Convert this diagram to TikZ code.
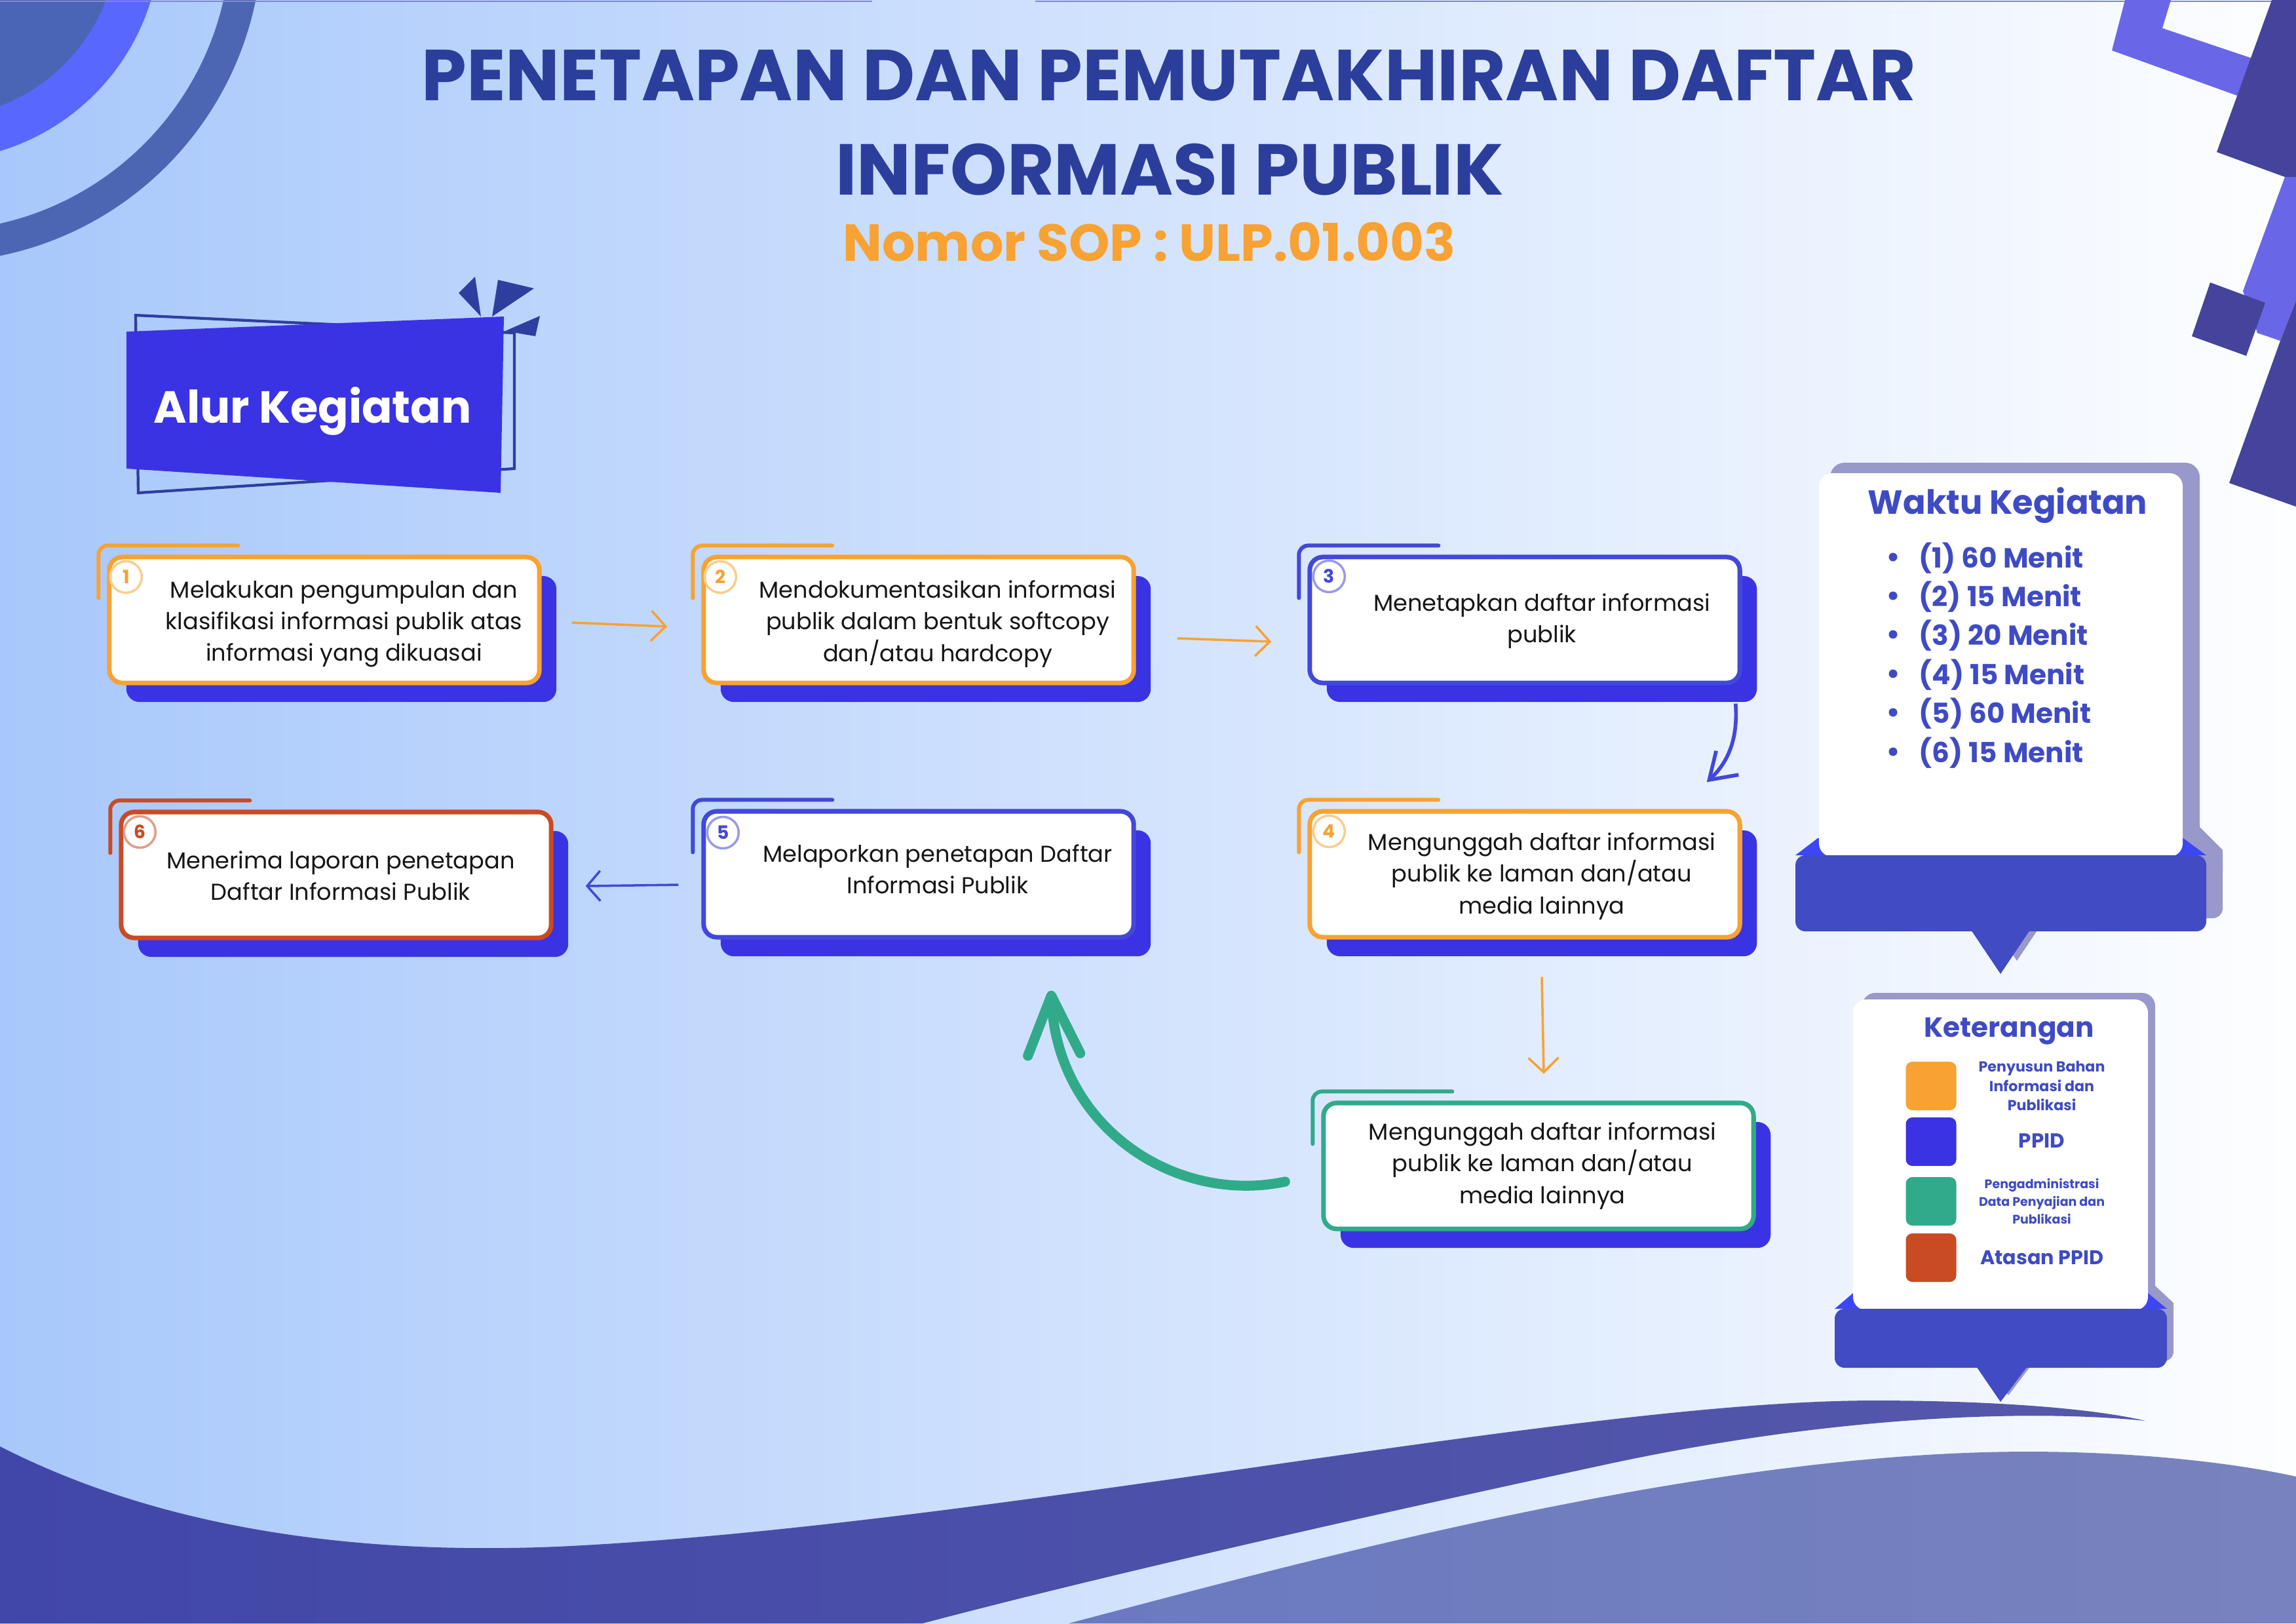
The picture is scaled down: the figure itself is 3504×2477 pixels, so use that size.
\documentclass[tikz,border=0pt]{standalone}
\usepackage{fontspec}
\setmainfont{Poppins}
\usetikzlibrary{arrows.meta,calc,shadows}
\definecolor{bgL}{HTML}{A8C8FB}
\definecolor{bgR}{HTML}{FDFEFF}
\definecolor{navy}{HTML}{2C3E9C}
\definecolor{orng}{HTML}{F7A233}
\definecolor{ppid}{HTML}{3A33E3}
\definecolor{ppidline}{HTML}{4248D8}
\definecolor{grn}{HTML}{31AA8A}
\definecolor{rust}{HTML}{C94B24}
\definecolor{panelblue}{HTML}{414BC4}
\definecolor{panelshade}{HTML}{9898CA}
\definecolor{panelear}{HTML}{3D46F5}
\definecolor{paneltext}{HTML}{3F4BC4}
\definecolor{decoDark}{HTML}{4A65B5}
\definecolor{decoBright}{HTML}{5868FF}
\definecolor{decoRing}{HTML}{4D66B4}
\definecolor{trDark}{HTML}{45439C}
\definecolor{trLight}{HTML}{6A66E8}
\definecolor{waveA}{HTML}{4147A8}
\definecolor{waveB}{HTML}{5558AA}
\definecolor{waveC}{HTML}{6A7AC0}
\definecolor{waveD}{HTML}{7882BE}
\definecolor{bannerline}{HTML}{2E3E9E}
\definecolor{txt}{HTML}{161616}
\definecolor{topline}{HTML}{8088D0}
\begin{document}
\begin{tikzpicture}[x=0.01cm,y=-0.01cm,
  stepbox/.style={draw=#1, line width=2pt, fill=white, rounded corners=0.2cm,
    minimum width=6.56cm, minimum height=1.92cm, inner sep=0pt,
    general shadow={fill=ppid, shadow xshift=0.26cm, shadow yshift=-0.29cm}},
  steptext/.style={text=txt, align=center, inner sep=0pt, font=\fontsize{10}{13.7}\selectfont},
  bracket/.style={draw=#1, line width=1.7pt, rounded corners=0.14cm, line cap=round},
  numcirc/.style={circle, draw=#1!55, line width=1pt, minimum size=0.48cm, inner sep=0pt,
    text=#1, font=\bfseries\fontsize{8}{8}\selectfont},
  oarrow/.style={draw=orng, line width=1pt, -{Straight Barb[length=0.22cm,width=0.46cm]}},
  barrow/.style={draw=ppidline, line width=1pt, -{Straight Barb[length=0.2cm,width=0.46cm]}},
  cbarrow/.style={draw=ppidline, line width=1.6pt, -{Straight Barb[length=0.38cm,width=0.5cm]}},
  garrow/.style={draw=grn, line width=4.3pt, line cap=round, -{Straight Barb[length=0.9cm,width=0.8cm,round]}},
  swatch/.style={fill=#1, rounded corners=0.1cm, minimum width=0.77cm, minimum height=0.74cm, inner sep=0pt},
  keytext/.style={text=paneltext, align=center, inner sep=0pt},
  waktu/.style={text=paneltext, anchor=base west, inner sep=0pt, font=\bfseries\fontsize{12}{12}\selectfont}
]
\useasboundingbox (0,0) rectangle (3504,2477);
\clip (0,0) rectangle (3504,2477);
\shade[left color=bgL, right color=bgR] (0,0) rectangle (3504,2477);

% top-left arcs
\fill[decoRing, even odd rule] (-100,-100) circle[radius=5cm] circle[radius=4.52cm];
\fill[decoBright] (-100,-100) circle[radius=3.45cm];
\fill[decoDark] (-100,-100) circle[radius=2.8cm];
\draw[topline, line width=0.8pt] (0,2) -- (1331,2) (1580,2) -- (3504,2);

% top-right shapes
\fill[trLight] (3243,0) -- (3313,0) -- (3300,43) -- (3440,90) -- (3420,148) -- (3223,77) -- cycle;
\fill[trDark] (3467,0) -- (3504,0) -- (3504,275) -- (3487,270) -- (3383,232) -- cycle;
\fill[trLight] (3487,270) -- (3504,270) -- (3504,459) -- (3480,520) -- (3445,508) -- (3423,444) -- cycle;
\fill[trDark] (3373,431) -- (3457,462) -- (3428,543) -- (3345,513) -- cycle;
\fill[trDark] (3480,520) -- (3504,459) -- (3504,773) -- (3402,737) -- cycle;

% bottom waves
\shade[left color=waveA, right color=waveB] (0,2207) .. controls (280,2350) and (600,2370) .. (849,2360)
  .. controls (1500,2330) and (2400,2137) .. (2860,2137) .. controls (3050,2137) and (3200,2150) .. (3274,2168)
  .. controls (3100,2150) and (2800,2160) .. (2458,2233) .. controls (2100,2310) and (1700,2400) .. (1408,2477)
  -- (0,2477) -- cycle;
\shade[left color=waveC, right color=waveD] (1631,2477) .. controls (2000,2380) and (2600,2215) .. (3095,2215)
  .. controls (3250,2215) and (3400,2230) .. (3504,2253) -- (3504,2477) -- cycle;

% title
\node[anchor=base, text=navy, font=\bfseries\fontsize{31.3}{31.3}\selectfont] (title1) at (1784,153) {PENETAPAN DAN PEMUTAKHIRAN DAFTAR};
\node[anchor=base, text=navy, font=\bfseries\fontsize{31.3}{31.3}\selectfont] (title2) at (1785,297) {INFORMASI PUBLIK};
\node[anchor=base, text=orng, font=\bfseries\fontsize{22.6}{22.6}\selectfont] (nomor) at (1754,398) {Nomor SOP : ULP.01.003};

% Alur Kegiatan banner
\draw[bannerline, line width=1.2pt] (207,481) -- (785,508) -- (785,715) -- (211,752) -- cycle;
\fill[ppid] (193,506) -- (769,483) -- (764,752) -- (193,715) -- cycle;
\fill[bannerline] (700,447) -- (725,422) -- (734,483) -- cycle;
\fill[bannerline] (760,427) -- (815,440) -- (751,483) -- cycle;
\fill[bannerline] (771,505) -- (824,482) -- (817,513) -- cycle;
\node[text=white, anchor=base, inner sep=0pt, font=\bfseries\fontsize{19.5}{19.5}\selectfont] (alur) at (477,645) {Alur Kegiatan};

% step boxes
\node[stepbox=orng] (b1) at (495,946) {};
\node[stepbox=orng] (b2) at (1402,946) {};
\node[stepbox=ppidline] (b3) at (2327,946) {};
\node[stepbox=orng] (b4) at (2327,1334) {};
\node[stepbox=ppidline] (b5) at (1402,1334) {};
\node[stepbox=rust] (b6) at (513,1335) {};
\node[stepbox=grn] (b7) at (2348,1779) {};

\foreach \b/\c in {b1/orng,b2/orng,b3/ppidline,b4/orng,b5/ppidline,b6/rust,b7/grn}{
  \draw[bracket=\c] ($(\b.north west)+(-13,66)$) -- ($(\b.north west)+(-13,-14)$) -- ($(\b.north west)+(200,-14)$);
}

\node[numcirc=orng] (n1) at ($(b1.north west)+(29,34)$) {1};
\node[numcirc=orng] (n2) at ($(b2.north west)+(29,34)$) {2};
\node[numcirc=ppidline] (n3) at ($(b3.north west)+(33,33)$) {3};
\node[numcirc=orng] (n4) at ($(b4.north west)+(33,34)$) {4};
\node[numcirc=ppidline] (n5) at ($(b5.north west)+(33,36)$) {5};
\node[numcirc=rust] (n6) at ($(b6.north west)+(32,34)$) {6};

\node[steptext] (t1) at ($(b1)+(30,6)$) {Melakukan pengumpulan dan\\klasifikasi informasi publik atas\\informasi yang dikuasai};
\node[steptext] (t2) at ($(b2)+(29,6)$) {Mendokumentasikan informasi\\publik dalam bentuk softcopy\\dan/atau hardcopy};
\node[steptext] (t3) at ($(b3)+(26,2)$) {Menetapkan daftar informasi\\publik};
\node[steptext] (t4) at ($(b4)+(26,3)$) {Mengunggah daftar informasi\\publik ke laman dan/atau\\media lainnya};
\node[steptext] (t5) at ($(b5)+(29,-8)$) {Melaporkan penetapan Daftar\\Informasi Publik};
\node[steptext] (t6) at ($(b6)+(7,1)$) {Menerima laporan penetapan\\Daftar Informasi Publik};
\node[steptext] (t7) at ($(b7)+(6,0)$) {Mengunggah daftar informasi\\publik ke laman dan/atau\\media lainnya};

% connectors
\draw[oarrow] ($(b1.east)+(46,4)$) -- ($(b2.west)+(-52,10)$);
\draw[oarrow] ($(b2.east)+(63,28)$) -- ($(b3.west)+(-55,33)$);
\draw[cbarrow] ($(b3.south east)+(-10,28)$) .. controls +(4,55) and +(32,-30) .. ($(b4.north east)+(-54,-41)$);
\draw[oarrow] ($(b4.south)+(26,57)$) -- ($(b7.north)+(8,-41)$);
\draw[barrow] ($(b5.west)+(-35,16)$) -- ($(b6.east)+(49,17)$);
\draw[garrow] ($(b7.west)+(-55,24)$) .. controls +(-166,35) and +(10,210) .. ($(b5.south)+(202,78)$);

% Waktu Kegiatan panel
\fill[panelshade, rounded corners=0.22cm] (2793,706) rectangle (3357,1320);
\fill[panelshade] (3357,1262) -- (3392,1297) -- (3392,1330) -- (3357,1330) -- cycle;
\fill[panelshade, rounded corners=0.15cm] (2765,1290) rectangle (3392,1401);
\fill[panelshade] (3033,1399) -- (3123,1399) -- (3078,1466) -- cycle;
\fill[panelear] (2774,1279) -- (3332,1279) -- (3367,1305) -- (2740,1305) -- cycle;
\fill[white, rounded corners=0.2cm] (2776,722) rectangle (3331,1307);
\fill[panelblue, rounded corners=0.15cm] (2740,1305) rectangle (3367,1421);
\fill[panelblue] (3008,1419) -- (3098,1419) -- (3053,1486) -- cycle;
\node[text=paneltext, anchor=base, inner sep=0pt, font=\bfseries\fontsize{14.5}{14.5}\selectfont] (wt) at (3064,784) {Waktu Kegiatan};
\foreach \i/\y/\t in {1/866/(1) 60 Menit,2/925/(2) 15 Menit,3/984/(3) 20 Menit,4/1044/(4) 15 Menit,5/1103/(5) 60 Menit,6/1163/(6) 15 Menit}{
  \fill[paneltext] (2889,\y-16) circle[radius=0.065cm];
  \node[waktu] (w\i) at (2928,\y) {\t};
}

% Keterangan panel
\fill[panelshade, rounded corners=0.2cm] (2842,1515) rectangle (3289,2000);
\fill[panelshade] (3289,1962) -- (3317,1988) -- (3317,2000) -- (3289,2000) -- cycle;
\fill[panelshade, rounded corners=0.15cm] (2812,1987) rectangle (3317,2077);
\fill[panelshade] (3028,2075) -- (3106,2075) -- (3065,2129) -- cycle;
\fill[panelear] (2828,1973) -- (3278,1973) -- (3307,1997) -- (2800,1997) -- cycle;
\fill[white, rounded corners=0.2cm] (2828,1525) rectangle (3278,1999);
\fill[panelblue, rounded corners=0.15cm] (2800,1997) rectangle (3307,2087);
\fill[panelblue] (3016,2085) -- (3094,2085) -- (3053,2139) -- cycle;
\node[text=paneltext, anchor=base, inner sep=0pt, font=\bfseries\fontsize{12}{12}\selectfont] (kt) at (3066,1582) {Keterangan};
\node[swatch=orng] (k1) at (2947,1657) {};
\node[swatch=ppid] (k2) at (2947,1742) {};
\node[swatch=grn] (k3) at (2947,1833) {};
\node[swatch=rust] (k4) at (2947,1919) {};
\node[keytext, font=\bfseries\fontsize{6.3}{8.3}\selectfont] (l1) at (3116,1657) {Penyusun Bahan\\Informasi dan\\Publikasi};
\node[keytext, anchor=base, font=\bfseries\fontsize{8.8}{8.8}\selectfont] (l2) at (3116,1751) {PPID};
\node[keytext, font=\bfseries\fontsize{5.4}{7.6}\selectfont] (l3) at (3116,1833) {Pengadministrasi\\Data Penyajian dan\\Publikasi};
\node[keytext, anchor=base, font=\bfseries\fontsize{8.6}{8.6}\selectfont] (l4) at (3116,1929) {Atasan PPID};
\end{tikzpicture}
\end{document}
